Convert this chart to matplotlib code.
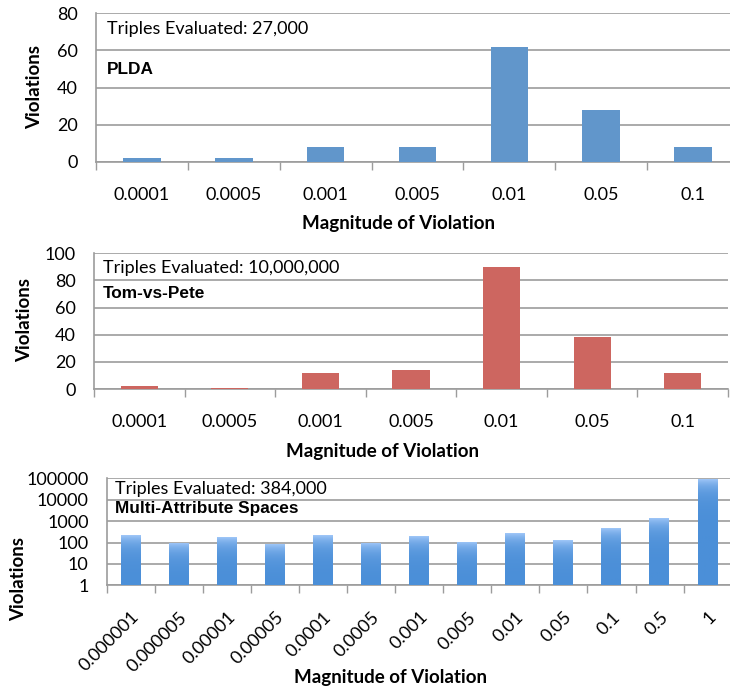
import numpy as np
import matplotlib
matplotlib.use('Agg')
import matplotlib.pyplot as plt

# data
cats_small = ['0.0001', '0.0005', '0.001', '0.005', '0.01', '0.05', '0.1']
plda_vals = [2, 2, 8, 8, 62, 28, 8]
tvp_vals = [2, 1, 12, 14, 90, 38, 12]

cats_multi = ['0.000001', '0.000005', '0.00001', '0.00005', '0.0001', '0.0005',
              '0.001', '0.005', '0.01', '0.05', '0.1', '0.5', '1']
multi_vals = [220, 98, 180, 85, 220, 98, 200, 112, 275, 130, 475, 1400, 93000]

plt.rcParams['font.family'] = ['Lato', 'DejaVu Sans']

GRID = '#9c9c9c'
FS = 13
W, H = 730, 688

fig = plt.figure(figsize=(7.3, 6.88), dpi=100)


def px(x, y):
    return x / W, 1 - y / H


def style_axes(ax, n):
    ax.set_xlim(-0.5, n - 0.5)
    ax.set_xticks(np.arange(n + 1) - 0.5)
    ax.set_xticklabels([])
    ax.set_xticks(np.arange(n), minor=True)
    ax.tick_params(axis='x', which='major', length=6, color=GRID, width=1)
    ax.tick_params(axis='x', which='minor', length=0, labelsize=FS, colors='black')
    ax.tick_params(axis='y', length=0, labelsize=FS, pad=13)
    for s in ['top', 'right']:
        ax.spines[s].set_visible(False)
    for s in ['left', 'bottom']:
        ax.spines[s].set_color(GRID)
        ax.spines[s].set_linewidth(1.2)
    ax.yaxis.grid(True, color=GRID, linewidth=1.2)
    ax.set_axisbelow(True)


def labels(ax, xlab_xy, ylab_xy):
    ax.set_xlabel('Magnitude of Violation', fontsize=13.5, fontweight='bold')
    ax.set_ylabel('Violations', fontsize=13.5, fontweight='bold')
    ax.xaxis.set_label_coords(*px(*xlab_xy), transform=fig.transFigure)
    ax.yaxis.set_label_coords(*px(*ylab_xy), transform=fig.transFigure)
    ax.xaxis.label.set_va('center')
    ax.yaxis.label.set_va('center')


def notes(ax, x, y1, y2, line1, line2):
    fig.text(*px(x, y1), line1, fontsize=13, va='center')
    fig.text(*px(x, y2), line2, fontsize=12.4, fontweight='bold', va='center',
             family=['Liberation Sans'])


# ---- panel 1: PLDA
ax1 = fig.add_axes([96 / W, 1 - 162 / H, 643 / W, 149 / H])
ax1.bar(range(len(cats_small)), plda_vals, width=0.41, color='#6196cb', zorder=3)
style_axes(ax1, len(cats_small))
ax1.set_ylim(0, 80)
ax1.set_yticks([0, 20, 40, 60, 80])
ax1.set_xticklabels(cats_small, minor=True)
ax1.tick_params(axis='x', which='minor', pad=18)
labels(ax1, (398, 224), (35, 87))
notes(ax1, 107, 29, 69, 'Triples Evaluated: 27,000', 'PLDA')

# ---- panel 2: Tom-vs-Pete
ax2 = fig.add_axes([94 / W, 1 - 389 / H, 634 / W, 135.7 / H])
ax2.bar(range(len(cats_small)), tvp_vals, width=0.41, color='#cd6660', zorder=3)
style_axes(ax2, len(cats_small))
ax2.set_ylim(0, 100)
ax2.set_yticks([0, 20, 40, 60, 80, 100])
ax2.set_xticklabels(cats_small, minor=True)
ax2.tick_params(axis='x', which='minor', pad=18)
labels(ax2, (383, 451), (25, 320))
notes(ax2, 103, 268, 294, 'Triples Evaluated: 10,000,000', 'Tom-vs-Pete')

# ---- panel 3: Multi-Attribute Spaces (log scale, gradient bars)
ax3 = fig.add_axes([106.7 / W, 1 - 585.3 / H, 625 / W, 107 / H])
ax3.set_yscale('log')
bars = ax3.bar(range(len(cats_multi)), multi_vals, width=0.42, bottom=1,
               color='none', zorder=3)
grad = np.linspace(0, 1, 256).reshape(-1, 1)
cmap = matplotlib.colors.LinearSegmentedColormap.from_list('g', ['#a8ccfb', '#4b8fd8'])
for b in bars:
    x0 = b.get_x()
    x1 = x0 + b.get_width()
    y1 = b.get_y() + b.get_height()
    im = ax3.imshow(grad, extent=(x0, x1, 1, y1), aspect='auto', cmap=cmap,
                    origin='upper', zorder=3)
    im.set_clip_path(b)
style_axes(ax3, len(cats_multi))
ax3.set_ylim(1, 100000)
ax3.set_yticks([1, 10, 100, 1000, 10000, 100000])
ax3.set_yticklabels(['1', '10', '100', '1000', '10000', '100000'])
ax3.tick_params(axis='y', which='minor', length=0, labelleft=False)
ax3.set_xticks(np.arange(len(cats_multi) + 1) - 0.5)
ax3.set_xticklabels([])
ax3.set_xticks(np.arange(len(cats_multi)), minor=True)
ax3.set_xticklabels(cats_multi, minor=True, rotation=45, ha='right',
                    rotation_mode='anchor')
ax3.tick_params(axis='x', which='minor', length=0, pad=17, labelsize=FS)
ax3.set_xlim(-0.5, len(cats_multi) - 0.5)
labels(ax3, (391, 677), (19, 579))
notes(ax3, 115, 489, 509, 'Triples Evaluated: 384,000', 'Multi-Attribute Spaces')

fig.savefig('out.png', dpi=100)
